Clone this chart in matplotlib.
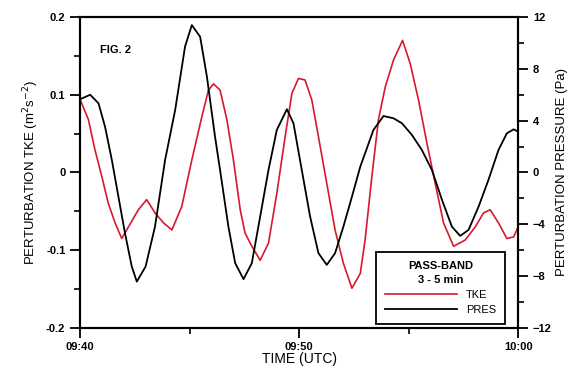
import numpy as np
import matplotlib
matplotlib.use("Agg")
import matplotlib.pyplot as plt
from matplotlib.ticker import MultipleLocator, FixedLocator

plt.rcParams['font.family'] = ['Liberation Sans', 'DejaVu Sans']

# minutes after 09:40
tke_t = [0.00, 0.38, 0.68, 0.99, 1.29, 1.60, 1.90, 2.21, 2.66, 3.04, 3.42, 3.81, 4.19,
         4.64, 5.10, 5.56, 5.86, 6.09, 6.39, 6.70, 7.00, 7.31, 7.53, 7.84, 8.22, 8.60,
         8.98, 9.36, 9.67, 9.97, 10.27, 10.58, 10.88, 11.26, 11.64, 12.02, 12.41, 12.79,
         13.01, 13.32, 13.62, 13.93, 14.31, 14.72, 15.07, 15.45, 15.83, 16.21, 16.59,
         17.05, 17.58, 18.04, 18.42, 18.72, 19.10, 19.48, 19.79, 20.00]
tke = [0.094, 0.068, 0.029, -0.005, -0.040, -0.065, -0.085, -0.070, -0.048, -0.035,
       -0.052, -0.065, -0.074, -0.044, 0.016, 0.072, 0.106, 0.114, 0.106, 0.068, 0.016,
       -0.048, -0.078, -0.095, -0.113, -0.091, -0.027, 0.046, 0.102, 0.121, 0.119, 0.093,
       0.046, -0.014, -0.074, -0.117, -0.149, -0.130, -0.087, -0.005, 0.068, 0.110,
       0.145, 0.170, 0.140, 0.093, 0.038, -0.014, -0.065, -0.095, -0.087, -0.070,
       -0.052, -0.048, -0.065, -0.085, -0.083, -0.070]

pres_t = [0.00, 0.46, 0.84, 1.14, 1.45, 1.75, 2.05, 2.36, 2.59, 2.99, 3.42, 3.88, 4.34,
          4.79, 5.10, 5.48, 5.79, 6.16, 6.39, 6.77, 7.08, 7.46, 7.84, 8.22, 8.60, 8.98,
          9.44, 9.74, 10.12, 10.50, 10.88, 11.26, 11.64, 12.02, 12.41, 12.79, 13.01,
          13.39, 13.85, 14.31, 14.69, 15.15, 15.60, 16.06, 16.52, 16.97, 17.35, 17.73,
          18.19, 18.64, 19.10, 19.48, 19.79, 20.00]
pres = [5.65, 6.0, 5.34, 3.53, 0.96, -1.87, -4.69, -7.27, -8.43, -7.27, -4.18, 0.96,
        4.82, 9.71, 11.38, 10.48, 7.39, 2.76, 0.19, -4.18, -7.0, -8.24, -7.0, -3.41,
        0.19, 3.28, 4.88, 3.80, 0.19, -3.41, -6.23, -7.14, -6.23, -4.18, -1.87, 0.45,
        1.48, 3.28, 4.36, 4.18, 3.80, 2.89, 1.74, 0.19, -2.12, -4.18, -4.90, -4.44,
        -2.64, -0.58, 1.74, 3.02, 3.33, 3.15]

xtick_pos = [0, 10, 20]
xtick_lab = ['09:40', '09:50', '10:00']
ytick_pos = [-0.2, -0.1, 0, 0.1, 0.2]
ytick_lab = ['-0.2', '-0.1', '0', '0.1', '0.2']

fig = plt.figure(figsize=(5.72, 3.79), dpi=100)
ax = fig.add_axes([0.140, 0.135, 0.766, 0.820])
ax2 = ax.twinx()

red = '#d7192e'
l1, = ax.plot(tke_t, tke, color=red, lw=1.2, label='TKE')
l2, = ax2.plot(pres_t, pres, color='black', lw=1.3, label='PRES')

ax.set_xlim(0, 20)
ax.set_ylim(-0.2, 0.2)
ax2.set_ylim(-12, 12)

ax.xaxis.set_major_locator(FixedLocator(xtick_pos))
ax.set_xticklabels(xtick_lab)
ax.xaxis.set_minor_locator(MultipleLocator(5))
ax.set_yticks(ytick_pos)
ax.set_yticklabels(ytick_lab)
ax.yaxis.set_minor_locator(MultipleLocator(0.05))
ax2.yaxis.set_major_locator(MultipleLocator(4))
ax2.yaxis.set_minor_locator(MultipleLocator(2))

for a in (ax, ax2):
    for s in a.spines.values():
        s.set_linewidth(1.5)
    a.tick_params(which='major', direction='out', length=7, width=1.3, labelsize=8)
    a.tick_params(which='minor', direction='out', length=4, width=1.2)
    for lab in a.get_xticklabels() + a.get_yticklabels():
        lab.set_fontweight('bold')
ax.tick_params(axis='both', which='both', top=False, right=False)

ax.set_xlabel('TIME (UTC)', fontsize=10, labelpad=0)
ax.set_ylabel('PERTURBATION TKE (m$^2$s$^{-2}$)', fontsize=9.5, labelpad=4)
ax2.set_ylabel('PERTURBATION PRESSURE (Pa)', fontsize=9.5, labelpad=3)

ax.text(0.045, 0.885, 'FIG. 2', transform=ax.transAxes, fontsize=8, fontweight='bold')

leg = ax2.legend([l1, l2], ['TKE', 'PRES'], title='PASS-BAND\n3 - 5 min',
                 loc='lower right', bbox_to_anchor=(0.97, 0.013), borderaxespad=0,
                 fontsize=8, title_fontsize=8, handlelength=6.5, fancybox=False,
                 framealpha=1, edgecolor='black', labelspacing=0.45, borderpad=0.8)
leg.get_frame().set_linewidth(1.3)
leg.get_title().set_multialignment('center')
leg.get_title().set_fontweight('bold')
leg.get_title().set_linespacing(1.5)

fig.savefig('out.png', dpi=100)
